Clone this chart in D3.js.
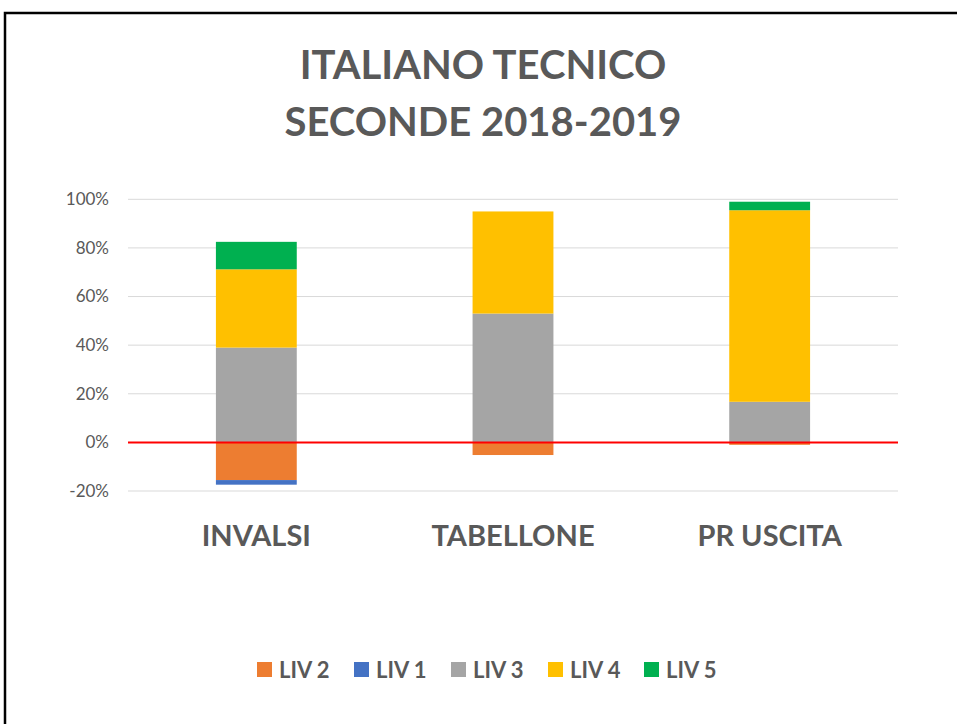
<!DOCTYPE html>
<html>
<head>
<meta charset="utf-8">
<script src="https://cdn.jsdelivr.net/npm/d3@7"></script>
<style>
  html, body { margin: 0; padding: 0; background: #fff; }
  svg { display: block; font-family: Lato, "Open Sans", sans-serif; }
</style>
</head>
<body>
<div id="chart"></div>
<script>
const categories = ['INVALSI', 'TABELLONE', 'PR USCITA'];
const seriesNames = ['LIV 2', 'LIV 1', 'LIV 3', 'LIV 4', 'LIV 5'];
const seriesColors = ['#ed7d31', '#4472c4', '#a5a5a5', '#ffc000', '#00b050'];
// values in percent, per category (LIV 2 and LIV 1 plotted below zero)
const liv2 = [-15.5, -5.2, -1.0];
const liv1 = [-1.9, 0, 0];
const liv3 = [39.0, 53.0, 16.7];
const liv4 = [32.2, 42.0, 78.8];
const liv5 = [11.3, 0, 3.5];
const tickValues = [-20, 0, 20, 40, 60, 80, 100];

const width = 957, height = 724;
const svg = d3.select('#chart').append('svg')
  .attr('width', width)
  .attr('height', height);

// outer frame
svg.append('rect')
  .attr('x', 5).attr('y', 13)
  .attr('width', 1000).attr('height', 760)
  .attr('fill', 'none')
  .attr('stroke', '#000')
  .attr('stroke-width', 2.5);

// title
const title = svg.append('text')
  .attr('x', 483)
  .attr('text-anchor', 'middle')
  .attr('fill', '#595959')
  .attr('font-weight', 'bold')
  .attr('font-size', 40);
title.append('tspan').attr('x', 483).attr('y', 79).text('ITALIANO TECNICO');
title.append('tspan').attr('x', 483).attr('y', 136).text('SECONDE 2018-2019');

const plot = { left: 128, right: 898 };
const y = d3.scaleLinear().domain([-20, 100]).range([491, 199.3]);
const x = d3.scaleBand().domain(categories).range([plot.left, plot.right]);
const barW = x.bandwidth() * 0.315;

// gridlines
svg.append('g')
  .selectAll('line')
  .data(tickValues.filter(v => v !== 0))
  .join('line')
  .attr('x1', plot.left).attr('x2', plot.right)
  .attr('y1', d => y(d)).attr('y2', d => y(d))
  .attr('stroke', '#d9d9d9')
  .attr('stroke-width', 1);

// y axis labels
const yAxis = d3.axisLeft(y)
  .tickValues(tickValues)
  .tickFormat(d => d + '%')
  .tickSize(0)
  .tickPadding(0);
const ya = svg.append('g')
  .attr('transform', 'translate(109,0)')
  .call(yAxis);
ya.select('.domain').remove();
ya.selectAll('text')
  .attr('font-family', 'Lato, "Open Sans", sans-serif')
  .attr('font-size', 17)
  .attr('fill', '#595959');

// stacked bars
const seriesValues = [liv2, liv1, liv3, liv4, liv5];
categories.forEach((cat, ci) => {
  let pos = 0, neg = 0;
  seriesValues.forEach((vals, si) => {
    const v = vals[ci];
    if (!v) return;
    let y0, y1;
    if (v >= 0) { y0 = pos; y1 = pos + v; pos = y1; }
    else { y0 = neg; y1 = neg + v; neg = y1; }
    svg.append('rect')
      .attr('x', x(cat) + x.bandwidth() / 2 - barW / 2)
      .attr('width', barW)
      .attr('y', y(Math.max(y0, y1)))
      .attr('height', Math.abs(y(y0) - y(y1)))
      .attr('fill', seriesColors[si]);
  });
});

// zero line
svg.append('line')
  .attr('x1', plot.left).attr('x2', plot.right)
  .attr('y1', y(0)).attr('y2', y(0))
  .attr('stroke', '#ff0000')
  .attr('stroke-width', 2);

// category labels
const xAxis = d3.axisBottom(x).tickSize(0).tickPadding(0);
const xa = svg.append('g')
  .attr('transform', 'translate(0,546)')
  .call(xAxis);
xa.select('.domain').remove();
xa.selectAll('text')
  .attr('font-family', 'Lato, "Open Sans", sans-serif')
  .attr('font-size', 29)
  .attr('font-weight', 'bold')
  .attr('fill', '#595959')
  .attr('dy', 0);

// legend
const legendX = [257, 354, 451, 548, 644];
const legend = svg.append('g')
  .selectAll('g')
  .data(seriesNames)
  .join('g')
  .attr('transform', (d, i) => `translate(${legendX[i]},662)`);
legend.append('rect')
  .attr('width', 15).attr('height', 15)
  .attr('fill', (d, i) => seriesColors[i]);
legend.append('text')
  .attr('x', 22).attr('y', 15.5)
  .attr('font-size', 22)
  .attr('font-weight', 'bold')
  .attr('fill', '#595959')
  .text(d => d);
</script>
</body>
</html>
